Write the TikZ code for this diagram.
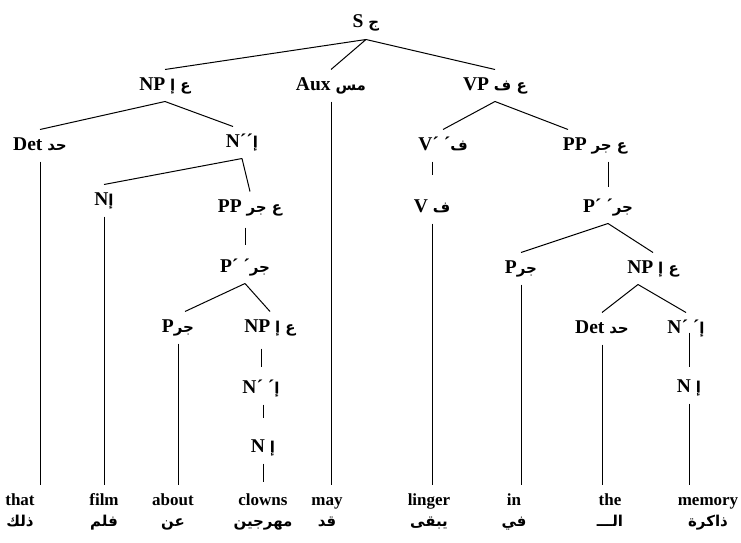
\documentclass[tikz,border=0pt]{standalone}
\usepackage{fontspec}
\setmainfont{Liberation Serif}
\newfontfamily\arabicfont[Script=Arabic]{DejaVu Sans}
\TeXXeTstate=1
\usetikzlibrary{positioning}

\newcommand\arab[1]{{\arabicfont\fontsize{15}{16}\selectfont\beginR #1\endR}}

\tikzset{
  cat/.style={font=\fontsize{19.5}{21}\selectfont\bfseries,
    text height=12pt, text depth=3pt, inner xsep=0pt, inner ysep=8pt},
  word/.style={cat, font=\fontsize{17}{20}\selectfont\bfseries},
  gloss/.style={text height=12pt, text depth=3pt, inner sep=0pt,
    font=\bfseries},
}

\begin{document}
\begin{tikzpicture}[on grid, line width=1pt]
  \useasboundingbox (0,0) rectangle (741pt,-543pt);

  % sentence
  \node [cat] (S) at (366pt,-23.5pt) {S \arab{ج}};

  % first level
  \node [cat, below left=62pt and 201pt of S] (NP) {NP \arab{ع إ}};
  \node [cat, below left=62pt and 35pt of S] (Aux) {Aux \arab{مس}};
  \node [cat, below right=62pt and 129pt of S] (VP) {VP \arab{ع ف}};

  % subject noun phrase
  \node [cat, below left=60pt and 125pt of NP] (Det) {Det \arab{حد}};
  \node [cat, below right=57pt and 77pt of NP] (Nbb) {N´´\arab{إ}};
  \node [cat, below left=58pt and 138pt of Nbb] (N) {N\arab{إ}};
  \node [cat, below right=65pt and 8pt of Nbb] (PP) {PP \arab{ع جر}};
  \node [cat, below left=60pt and 5pt of PP] (Pb) {P´ ´\arab{جر}};
  \node [cat, below left=60pt and 67pt of Pb] (P) {P\arab{جر}};
  \node [cat, below right=60pt and 25pt of Pb] (NP2) {NP \arab{ع إ}};
  \node [cat, below left=61pt and 9pt of NP2] (Nb2) {N´ ´\arab{إ}};
  \node [cat, below right=59pt and 2pt of Nb2] (N2) {N \arab{إ}};

  % verb phrase
  \node [cat, below left=60pt and 52pt of VP] (Vb) {V´ ´\arab{ف}};
  \node [cat, below left=62pt and 11pt of Vb] (V) {V \arab{ف}};
  \node [cat, below right=60pt and 100pt of VP] (PP3) {PP \arab{ع جر}};
  \node [cat, below right=62pt and 13pt of PP3] (Pb3) {P´ ´\arab{جر}};
  \node [cat, below left=61pt and 87pt of Pb3] (P3) {P\arab{جر}};
  \node [cat, below right=61pt and 45pt of Pb3] (NP3) {NP \arab{ع إ}};
  \node [cat, below left=60pt and 51pt of NP3] (Det3) {Det \arab{حد}};
  \node [cat, below right=60pt and 33pt of NP3] (Nb3) {N´ ´\arab{إ}};
  \node [cat, below right=59pt and 3pt of Nb3] (N3) {N \arab{إ}};

  % words and glosses
  \node [word, below left=355pt and 20pt of Det] (that) {that};
  \node [word, below=300pt of N] (film) {film};
  \node [word, below left=173pt and 5pt of P] (about) {about};
  \node [word, below=53pt of N2] (clowns) {clowns};
  \node [word, below left=415pt and 4pt of Aux] (may) {may};
  \node [word, below left=293pt and 3pt of V] (linger) {linger};
  \node [word, below left=232pt and 7pt of P3] (in) {in};
  \node [word, below right=172pt and 8pt of Det3] (the) {the};
  \node [word, below right=113pt and 19pt of N3] (memory) {memory};

  \node [gloss, below=21pt of that] (that-ar) {\arab{ذلك}};
  \node [gloss, below=21pt of film] (film-ar) {\arab{فلم}};
  \node [gloss, below=21pt of about] (about-ar) {\arab{عن}};
  \node [gloss, below=21pt of clowns] (clowns-ar) {\arab{مهرجين}};
  \node [gloss, below=21pt of may] (may-ar) {\arab{قد}};
  \node [gloss, below=21pt of linger] (linger-ar) {\arab{يبقى}};
  \node [gloss, below=21pt of in] (in-ar) {\arab{في}};
  \node [gloss, below=21pt of the] (the-ar) {\arab{الـــ}};
  \node [gloss, below=21pt of memory] (memory-ar) {\arab{ذاكرة}};

  % branches
  \draw (S.south) -- (NP.north)
        (S.south) -- (Aux.north)
        (S.south) -- (VP.north);
  \draw (NP.south) -- (Det.north)
        (NP.south) -- ([xshift=-9pt]Nbb.north);
  \draw (Nbb.south) -- (N.north)
        (Nbb.south) -- (PP.north);
  \draw (Pb.south) -- ([xshift=7pt]P.north)
        (Pb.south) -- (NP2.north);
  \draw (VP.south) -- (Vb.north)
        (VP.south) -- ([xshift=-27pt]PP3.north);
  \draw (Pb3.south) -- (P3.north)
        (Pb3.south) -- (NP3.north);
  \draw ([xshift=-15pt]NP3.south) -- (Det3.north)
        ([xshift=-15pt]NP3.south) -- (Nb3.north);

  % single daughters
  \draw [shorten <=4pt, shorten >=7pt] (Pb.north |- PP.south) -- (Pb.north);
  \draw [shorten <=5pt, shorten >=6pt] (Nb2.north |- NP2.south) -- (Nb2.north);
  \draw [shorten >=14pt] (N2.north |- Nb2.south) -- (N2.north);
  \draw [shorten >=17pt] (V.north |- Vb.south) -- (V.north);
  \draw [shorten >=5pt] (Pb3.north |- PP3.south) -- (Pb3.north);
  \draw [shorten <=-12pt, shorten >=5pt] (N3.north |- Nb3.south) -- (N3.north);

  % down to the words
  \draw (Det.south) -- (Det.south |- that.north);
  \draw (N.south) -- (N.south |- film.north);
  \draw (P.south) -- (P.south |- about.north);
  \draw [shorten >=3pt] (N2.south) -- (N2.south |- clowns.north);
  \draw (Aux.south) -- (Aux.south |- may.north);
  \draw (V.south) -- (V.south |- linger.north);
  \draw (P3.south) -- (P3.south |- in.north);
  \draw (Det3.south) -- (Det3.south |- the.north);
  \draw (N3.south) -- (N3.south |- memory.north);
\end{tikzpicture}
\end{document}
